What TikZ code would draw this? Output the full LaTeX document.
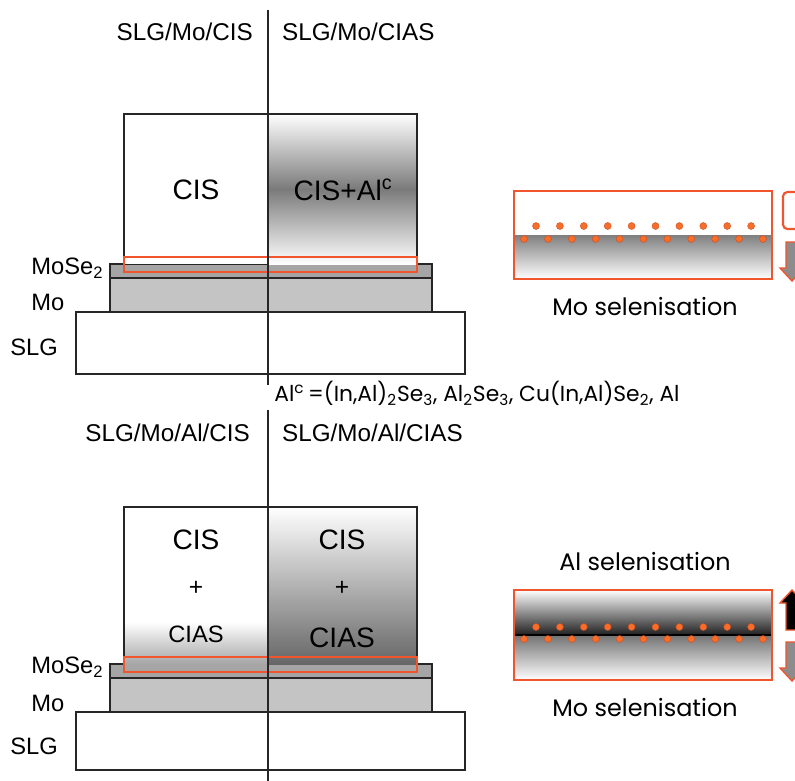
\documentclass[tikz,border=0pt]{standalone}
\usepackage{fontspec}
\setmainfont{Liberation Sans}
\newfontfamily\gothic{Poppins}
\definecolor{edgeorange}{RGB}{240,85,45}
\definecolor{dotorange}{RGB}{247,110,40}
\definecolor{selgray}{RGB}{165,165,165}
\definecolor{mogray}{RGB}{196,196,196}
\tikzset{
  layer/.style={draw=black!85, line width=0.75pt},
  redbox/.style={draw=edgeorange, line width=1.2pt},
  dot/.style={fill=dotorange, draw=edgeorange!85!black, line width=0.2pt},
  stacktitle/.style={font=\fontsize{13.8}{16}\selectfont},
  sidetext/.style={font=\fontsize{13.5}{16}\selectfont, anchor=west, inner sep=0pt},
  boxtext/.style={font=\fontsize{16}{19}\selectfont},
  insettext/.style={font=\gothic\fontsize{13.6}{16}\selectfont},
}
\begin{document}
\begin{tikzpicture}[x=0.02cm,y=-0.02cm]
    \clip (0,0) rectangle (795,781);
    % upper stack: SLG/Mo/CIS | SLG/Mo/CIAS
    \draw[layer, fill=white] (76,312) rectangle (465,374);
    \draw[layer, fill=mogray] (110,278) rectangle (432,312);
    \draw[layer, fill=selgray] (110,264) rectangle (432,278);
    \fill[white] (124,114) rectangle (268,264);
    \shade[top color=white, bottom color=white, middle color=black!52] (268,114) rectangle (417,264);
    \draw[layer] (124,264) -- (124,114) -- (417,114) -- (417,264);
    \draw[redbox] (124,257) rectangle (417,272);
    \draw[layer] (268,10) -- (268,385);
    \node[stacktitle, anchor=east] (ttl1) at (259,32) {SLG/Mo/CIS};
    \node[stacktitle, anchor=west] (ttl2) at (276,32) {SLG/Mo/CIAS};
    \node[boxtext] (cis1) at (196,190) {CIS};
    \node[boxtext] (cisal) at (343,190) {CIS+Al\textsuperscript{c}};
    \node[sidetext] (mose1) at (31,268) {MoSe\textsubscript{2}};
    \node[sidetext] (mo1) at (31,302) {Mo};
    \node[sidetext] (slg1) at (10,347) {SLG};
    \node[insettext, anchor=west, inner sep=0pt, font=\gothic\fontsize{12.4}{14}\selectfont] (alc) at (274,393)
        {Al\textsuperscript{c}\,=(In,Al)\textsubscript{2}Se\textsubscript{3}, Al\textsubscript{2}Se\textsubscript{3}, Cu(In,Al)Se\textsubscript{2}, Al};

    % upper inset
    \fill[white] (514,191) rectangle (772,235);
    \shade[top color=black!50, bottom color=white] (514,235) rectangle (772,279);
    \draw[redbox] (514,191) rectangle (772,279);
    \foreach \i in {0,...,9}
        \filldraw[dot] (536+23.9*\i,226) circle[radius=2pt];
    \foreach \i in {0,...,10}
        \filldraw[dot] (524+23.9*\i,239) circle[radius=2pt];
    \node[insettext] (mosel1) at (645,307) {Mo selenisation};
    \draw[redbox, rounded corners=2.5pt] (783,192) rectangle (840,229);
    \filldraw[fill=black!45, draw=edgeorange, line width=0.8pt]
        (786,242) -- (798,242) -- (798,268) -- (804,268) -- (792,281) -- (780,268) -- (786,268) -- cycle;

    % lower stack: SLG/Mo/Al/CIS | SLG/Mo/Al/CIAS
    \draw[layer, fill=white] (76,712) rectangle (465,770);
    \draw[layer, fill=mogray] (110,678) rectangle (432,712);
    \draw[layer, fill=selgray] (110,664) rectangle (432,678);
    \fill[white] (124,507) rectangle (268,664);
    \shade[top color=white, bottom color=black!35] (124,622) rectangle (268,664);
    \shade[top color=white, bottom color=black!60] (268,507) rectangle (417,664);
    \draw[layer] (124,664) -- (124,507) -- (417,507) -- (417,664);
    \draw[redbox] (124,657) rectangle (417,672);
    \draw[layer] (268,410) -- (268,781);
    \node[stacktitle, anchor=east] (ttl3) at (256,433) {SLG/Mo/Al/CIS};
    \node[stacktitle, anchor=west] (ttl4) at (276,433) {SLG/Mo/Al/CIAS};
    \node[boxtext] (cis2) at (196,540) {CIS};
    \node[boxtext, font=\fontsize{14}{17}\selectfont] (plus1) at (196,588) {+};
    \node[boxtext, font=\fontsize{13.5}{16}\selectfont] (cias1) at (196,634) {CIAS};
    \node[boxtext] (cis3) at (342,540) {CIS};
    \node[boxtext, font=\fontsize{14}{17}\selectfont] (plus2) at (342,588) {+};
    \node[boxtext] (cias2) at (342,638) {CIAS};
    \node[sidetext] (mose2) at (31,667) {MoSe\textsubscript{2}};
    \node[sidetext] (mo2) at (31,703) {Mo};
    \node[sidetext] (slg2) at (10,746) {SLG};

    % lower inset
    \shade[top color=white, bottom color=black!88] (514,590) rectangle (772,635);
    \shade[top color=black!55, bottom color=white] (514,635) rectangle (772,680);
    \draw[black, line width=0.8pt] (514,635) -- (772,635);
    \draw[redbox] (514,590) rectangle (772,680);
    \foreach \i in {0,...,9}
        \filldraw[dot] (536+23.9*\i,627) circle[radius=2pt];
    \foreach \i in {0,...,10}
        \filldraw[dot] (524+23.9*\i,639) circle[radius=2pt];
    \node[insettext] (alsel) at (645,562) {Al selenisation};
    \node[insettext] (mosel2) at (645,708) {Mo selenisation};
    \filldraw[fill=black, draw=edgeorange, line width=0.8pt]
        (792,590) -- (804,603) -- (798,603) -- (798,630) -- (786,630) -- (786,603) -- (780,603) -- cycle;
    \filldraw[fill=black!45, draw=edgeorange, line width=0.8pt]
        (786,642) -- (798,642) -- (798,668) -- (804,668) -- (792,681) -- (780,668) -- (786,668) -- cycle;
\end{tikzpicture}
\end{document}
